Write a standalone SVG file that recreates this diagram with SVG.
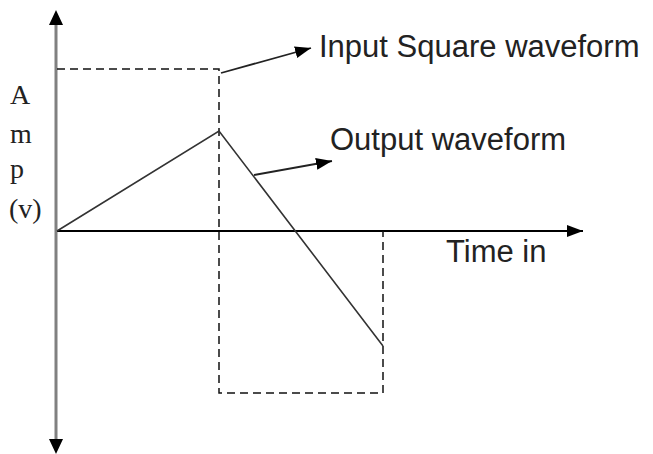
<svg xmlns="http://www.w3.org/2000/svg" width="653" height="454" viewBox="0 0 653 454">
<style>
.lbl{font-family:"Liberation Sans",Arial,sans-serif;font-size:31px;fill:#222}
.amp{font-family:"Liberation Serif","Times New Roman",serif;font-size:28px;fill:#222}
.dash{fill:none;stroke:#111;stroke-width:1.5;stroke-dasharray:8 5}
.wave{fill:none;stroke:#333;stroke-width:1.6}
.ptr{fill:none;stroke:#222;stroke-width:1.8}
</style>
<defs>
<marker id="ah" markerUnits="userSpaceOnUse" markerWidth="18" markerHeight="14" refX="16" refY="7" orient="auto">
<path d="M0,1 L16,7 L0,13 Z" fill="#000"/>
</marker>
<marker id="ahs" markerUnits="userSpaceOnUse" markerWidth="18" markerHeight="14" refX="16" refY="6" orient="auto">
<path d="M0,0 L16,6 L0,12 Z" fill="#000"/>
</marker>
</defs>
<rect width="653" height="454" fill="#fff"/>
<g id="axes">
<line x1="56" y1="24" x2="56" y2="440" stroke="#808080" stroke-width="3"/>
<path d="M56,10 L49,25 L63,25 Z" fill="#000"/>
<path d="M56,454 L49,439 L63,439 Z" fill="#000"/>
<line x1="57" y1="231" x2="583" y2="231" stroke="#000" stroke-width="2" marker-end="url(#ah)"/>
</g>
<g id="input-square">
<path class="dash" d="M57,69 H219 V393 H383 V231"/>
</g>
<g id="output-wave">
<polyline class="wave" points="57,231 219,131 383,346"/>
</g>
<g id="connectors">
<line class="ptr" x1="221" y1="73" x2="311" y2="48" marker-end="url(#ahs)"/>
<line class="ptr" x1="254" y1="175" x2="332" y2="161" marker-end="url(#ahs)"/>
</g>
<g id="label-input"><text class="lbl" x="319" y="57">Input Square waveform</text></g>
<g id="label-output"><text class="lbl" x="330" y="150">Output waveform</text></g>
<g id="label-time"><text class="lbl" x="446" y="262">Time in</text></g>
<g id="label-amp">
<text class="amp" x="10" y="104">A</text>
<text class="amp" x="10" y="143">m</text>
<text class="amp" x="10" y="178">p</text>
<text class="amp" x="9" y="218">(v)</text>
</g>
</svg>
